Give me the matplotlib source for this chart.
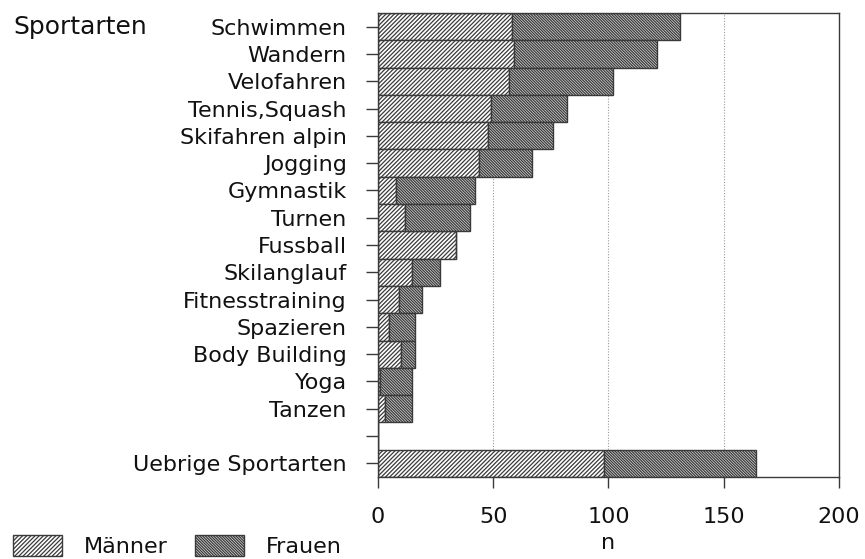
import matplotlib
matplotlib.use("Agg")
import matplotlib.pyplot as plt
from matplotlib.patches import Patch

plt.rcParams['font.family'] = ['DejaVu Sans']
plt.rcParams['hatch.linewidth'] = 0.9

categories = ["Schwimmen", "Wandern", "Velofahren", "Tennis,Squash", "Skifahren alpin",
              "Jogging", "Gymnastik", "Turnen", "Fussball", "Skilanglauf",
              "Fitnesstraining", "Spazieren", "Body Building", "Yoga", "Tanzen",
              "", "Uebrige Sportarten"]
maenner = [58, 59, 57, 49, 48, 44, 8, 12, 34, 15, 9, 5, 10, 1, 3, 0, 98]
total = [131, 121, 102, 82, 76, 67, 42, 40, 34, 27, 19, 16, 16, 15, 15, 0, 164]
frauen = [t - m for t, m in zip(total, maenner)]
xticks = [0, 50, 100, 150, 200]

HM = '/' * 8
HF = '\\' * 12
FC_F = '#dcdcdc'

fig = plt.figure(figsize=(8.65, 5.59), dpi=100)
ax = fig.add_axes([0.4367, 0.1467, 0.9700 - 0.4367, 0.9767 - 0.1467])

ypos = list(range(len(categories)))
edge = '#3a3a3a'
for xv in xticks[1:-1]:
    ax.axvline(xv, color='#9a9a9a', lw=0.8, ls=(0, (1, 1.5)), zorder=0)

ax.barh(ypos, maenner, height=1.0, color='white', edgecolor=edge, hatch=HM,
        linewidth=1.0, zorder=2)
ax.barh(ypos, frauen, left=maenner, height=1.0, color=FC_F, edgecolor=edge,
        hatch=HF, linewidth=1.0, zorder=2)

ax.set_xlim(0, 200)
ax.set_ylim(len(categories) - 0.5, -0.5)
ax.set_xticks(xticks)
ax.set_yticks(ypos)
ax.set_yticklabels(categories)
ax.tick_params(axis='y', length=8.4, width=1.0, pad=14, labelsize=16, color=edge,
               labelcolor='#111111')
ax.tick_params(axis='x', length=7.7, width=1.0, pad=14, labelsize=16, color=edge,
               labelcolor='#111111')
for s in ax.spines.values():
    s.set_color(edge)
    s.set_linewidth(1.0)

ax.set_xlabel('n', fontsize=16, color='#111111', labelpad=4)
fig.text(0.015, 0.9767 - 0.5 * (464 / 17) / 559, 'Sportarten', fontsize=18,
         color='#111111', va='center', ha='left')

handles = [Patch(facecolor='white', edgecolor=edge, hatch=HM, linewidth=1.0),
           Patch(facecolor=FC_F, edgecolor=edge, hatch=HF, linewidth=1.0)]
leg = fig.legend(handles, ['Männer', 'Frauen'], loc='lower left',
                 bbox_to_anchor=(0.015, 0.004), ncol=2, frameon=False, fontsize=16,
                 handlelength=2.2, handleheight=1.1, columnspacing=1.2,
                 handletextpad=1.0, borderpad=0, borderaxespad=0)
for t in leg.get_texts():
    t.set_color('#111111')

fig.savefig('out.png', dpi=100)
